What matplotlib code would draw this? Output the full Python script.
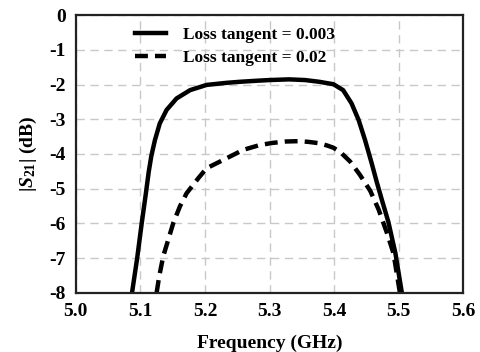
import matplotlib
matplotlib.use('Agg')
import matplotlib.pyplot as plt

### data
freq_lo = [5.087, 5.095, 5.102, 5.108, 5.113, 5.117, 5.1225, 5.130, 5.1406, 5.156,
           5.177, 5.2026, 5.2336, 5.254, 5.280, 5.300, 5.330, 5.355, 5.377, 5.399,
           5.414, 5.427, 5.438, 5.448, 5.458, 5.466, 5.474, 5.484, 5.495, 5.505]
s21_lo = [-8.0, -7.0, -6.0, -5.2, -4.5, -4.05, -3.6, -3.12, -2.73, -2.4,
          -2.16, -2.01, -1.95, -1.92, -1.89, -1.87, -1.85, -1.87, -1.92, -1.99,
          -2.16, -2.54, -3.02, -3.6, -4.25, -4.8, -5.32, -5.95, -6.86, -8.0]

freq_hi = [5.1251, 5.1291, 5.1353, 5.1431, 5.1509, 5.1612, 5.1716, 5.1896, 5.2026, 5.2284,
           5.2594, 5.2853, 5.305, 5.325, 5.345, 5.360, 5.377, 5.390, 5.399, 5.410,
           5.425, 5.440, 5.456, 5.469, 5.482, 5.492, 5.502]
s21_hi = [-8.0, -7.53, -6.95, -6.47, -5.99, -5.51, -5.13, -4.7, -4.41, -4.17,
          -3.88, -3.74, -3.68, -3.64, -3.63, -3.65, -3.69, -3.76, -3.82, -3.95,
          -4.22, -4.6, -5.06, -5.6, -6.28, -6.86, -8.0]

labels = ['Loss tangent = 0.003', 'Loss tangent = 0.02']
xticks = [5.0, 5.1, 5.2, 5.3, 5.4, 5.5, 5.6]
yticks = [0, -1, -2, -3, -4, -5, -6, -7, -8]

plt.rcParams['font.family'] = 'Liberation Serif'
plt.rcParams['font.weight'] = 'bold'
plt.rcParams['mathtext.fontset'] = 'custom'
plt.rcParams['mathtext.rm'] = 'Liberation Serif:bold'
plt.rcParams['mathtext.it'] = 'Liberation Serif:italic:bold'
plt.rcParams['mathtext.bf'] = 'Liberation Serif:bold'


def main():
    fig = plt.figure(figsize=(4.8, 3.52), dpi=100)
    ax = fig.add_axes([0.158, 0.168, 0.807, 0.789])

    ax.plot(freq_lo, s21_lo, color='black', lw=3.2, label=labels[0],
            solid_joinstyle='round')
    ax.plot(freq_hi, s21_hi, color='black', lw=3.2, ls=(0, (2.9, 1.6)),
            label=labels[1], dash_joinstyle='round')

    ax.set_xlim(5.0, 5.6)
    ax.set_ylim(-8, 0)
    ax.set_xticks(xticks)
    ax.set_yticks(yticks)
    ax.set_xticklabels(['%.1f' % v for v in xticks])
    ax.set_yticklabels(['%d' % v for v in yticks])
    ax.tick_params(length=0, labelsize=14, pad=7)
    ax.grid(True, color='#c8c8c8', ls=(0, (6, 4)), lw=1.0)
    for s in ax.spines.values():
        s.set_linewidth(1.6)
        s.set_color('#222222')

    ax.set_xlabel('Frequency (GHz)', fontsize=14, fontweight='bold', labelpad=11)
    ax.set_ylabel(r'$|S_{21}|$ (dB)', fontsize=14, fontweight='bold', labelpad=8)

    ax.legend(loc='upper left', bbox_to_anchor=(0.112, 1.015), frameon=False,
              fontsize=12.5, handlelength=1.8, handletextpad=1.0, labelspacing=0.4)

    fig.savefig('out.png', dpi=100)


if __name__ == '__main__':
    main()
